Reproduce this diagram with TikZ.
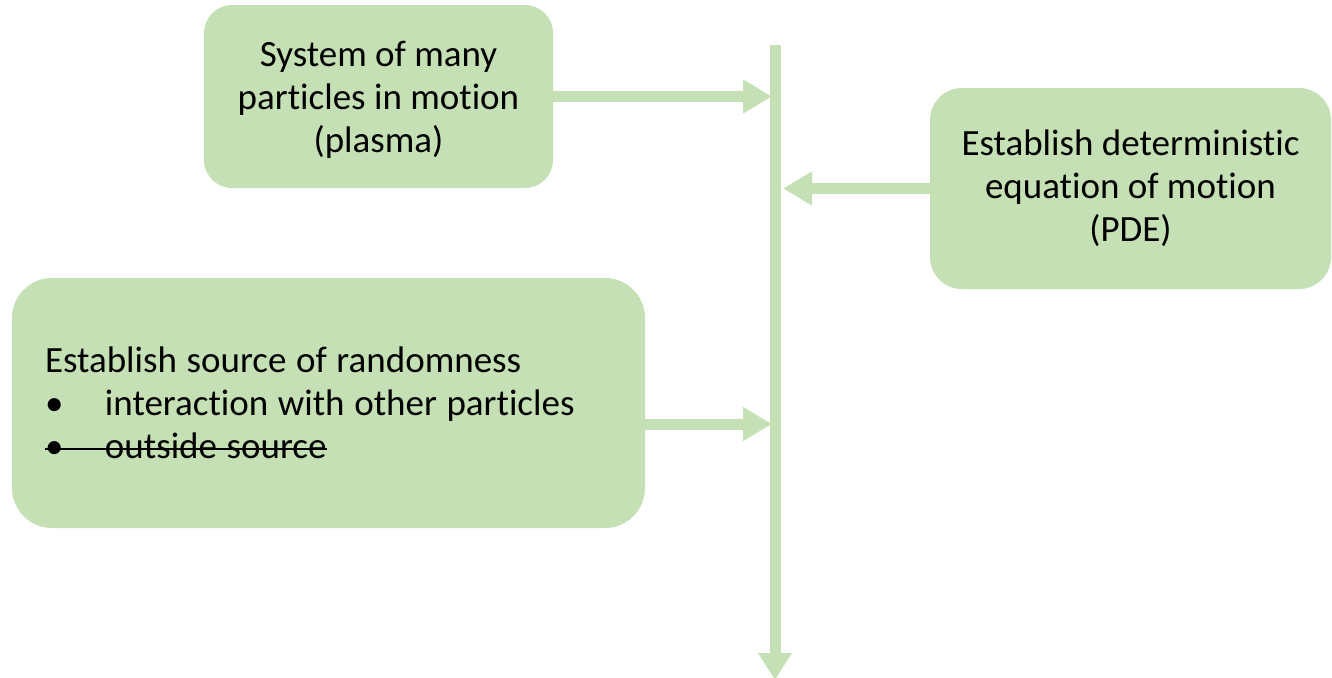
\documentclass[tikz,border=0pt]{standalone}
\usepackage{fontspec}
\setmainfont{Carlito}[Ligatures=NoCommon]
\usetikzlibrary{arrows.meta}
\definecolor{leaf}{HTML}{C5E0B4}

% struck-through text: a rule laid over the whole line
\newsavebox\strikebox
\newcommand\struck[1]{\leavevmode\sbox\strikebox{#1}%
  \rlap{\usebox\strikebox}\rule[0.24em]{\wd\strikebox}{1pt}}

\tikzset{
  cardtext/.style={inner sep=0pt, font=\fontsize{18.5}{21.5}\selectfont},
  card/.style={cardtext, fill=leaf, draw=none},
  flow/.style={draw=leaf, line width=5.5pt,
    -{Triangle[length=14.5pt,width=16pt]}},
}

\begin{document}
\begin{tikzpicture}[x=0.5pt, y=-0.5pt]
\useasboundingbox (0,0) rectangle (1332,677);

% the vertical spine
\coordinate (spine-top) at (775,45);
\coordinate (spine-end) at (775,680);
\draw[draw=leaf, line width=5.5pt, -{Triangle[length=13.5pt,width=16pt]}]
  (spine-top) -- (spine-end);

% boxes
\node[card, rounded corners=14pt, minimum width=174.5pt, minimum height=91.5pt]
  (sys) at (378.5,96.5) {};
\node[cardtext, align=center] (sys-text) at ([yshift=-1.5pt]sys.center)
  {System of many\\particles in motion\\(plasma)};

\node[card, rounded corners=16pt, minimum width=200.5pt, minimum height=100.5pt,
  align=center] (pde) at (1130.5,188.5)
  {Establish deterministic\\equation of motion\\(PDE)};

\node[card, rounded corners=20pt, minimum width=316.5pt, minimum height=125pt,
  text width=283.5pt, align=left] (rnd) at (328.5,403)
  {\spaceskip=0.26em\relax
   Establish source of randomness\\
   \makebox[30pt][l]{\textbullet}interaction with other particles\\
   \struck{\makebox[30pt][l]{\textbullet}outside source}};

% connectors into the spine
\draw[flow, shorten >=1.5pt] (sys.east) -- (sys.east -| spine-top);
\draw[flow, shorten >=4pt] (pde.west) -- (pde.west -| spine-top);
\draw[flow, shorten >=1.5pt] ([yshift=-10.5pt]rnd.east) -- ([yshift=-10.5pt]rnd.east -| spine-top);
\end{tikzpicture}
\end{document}
